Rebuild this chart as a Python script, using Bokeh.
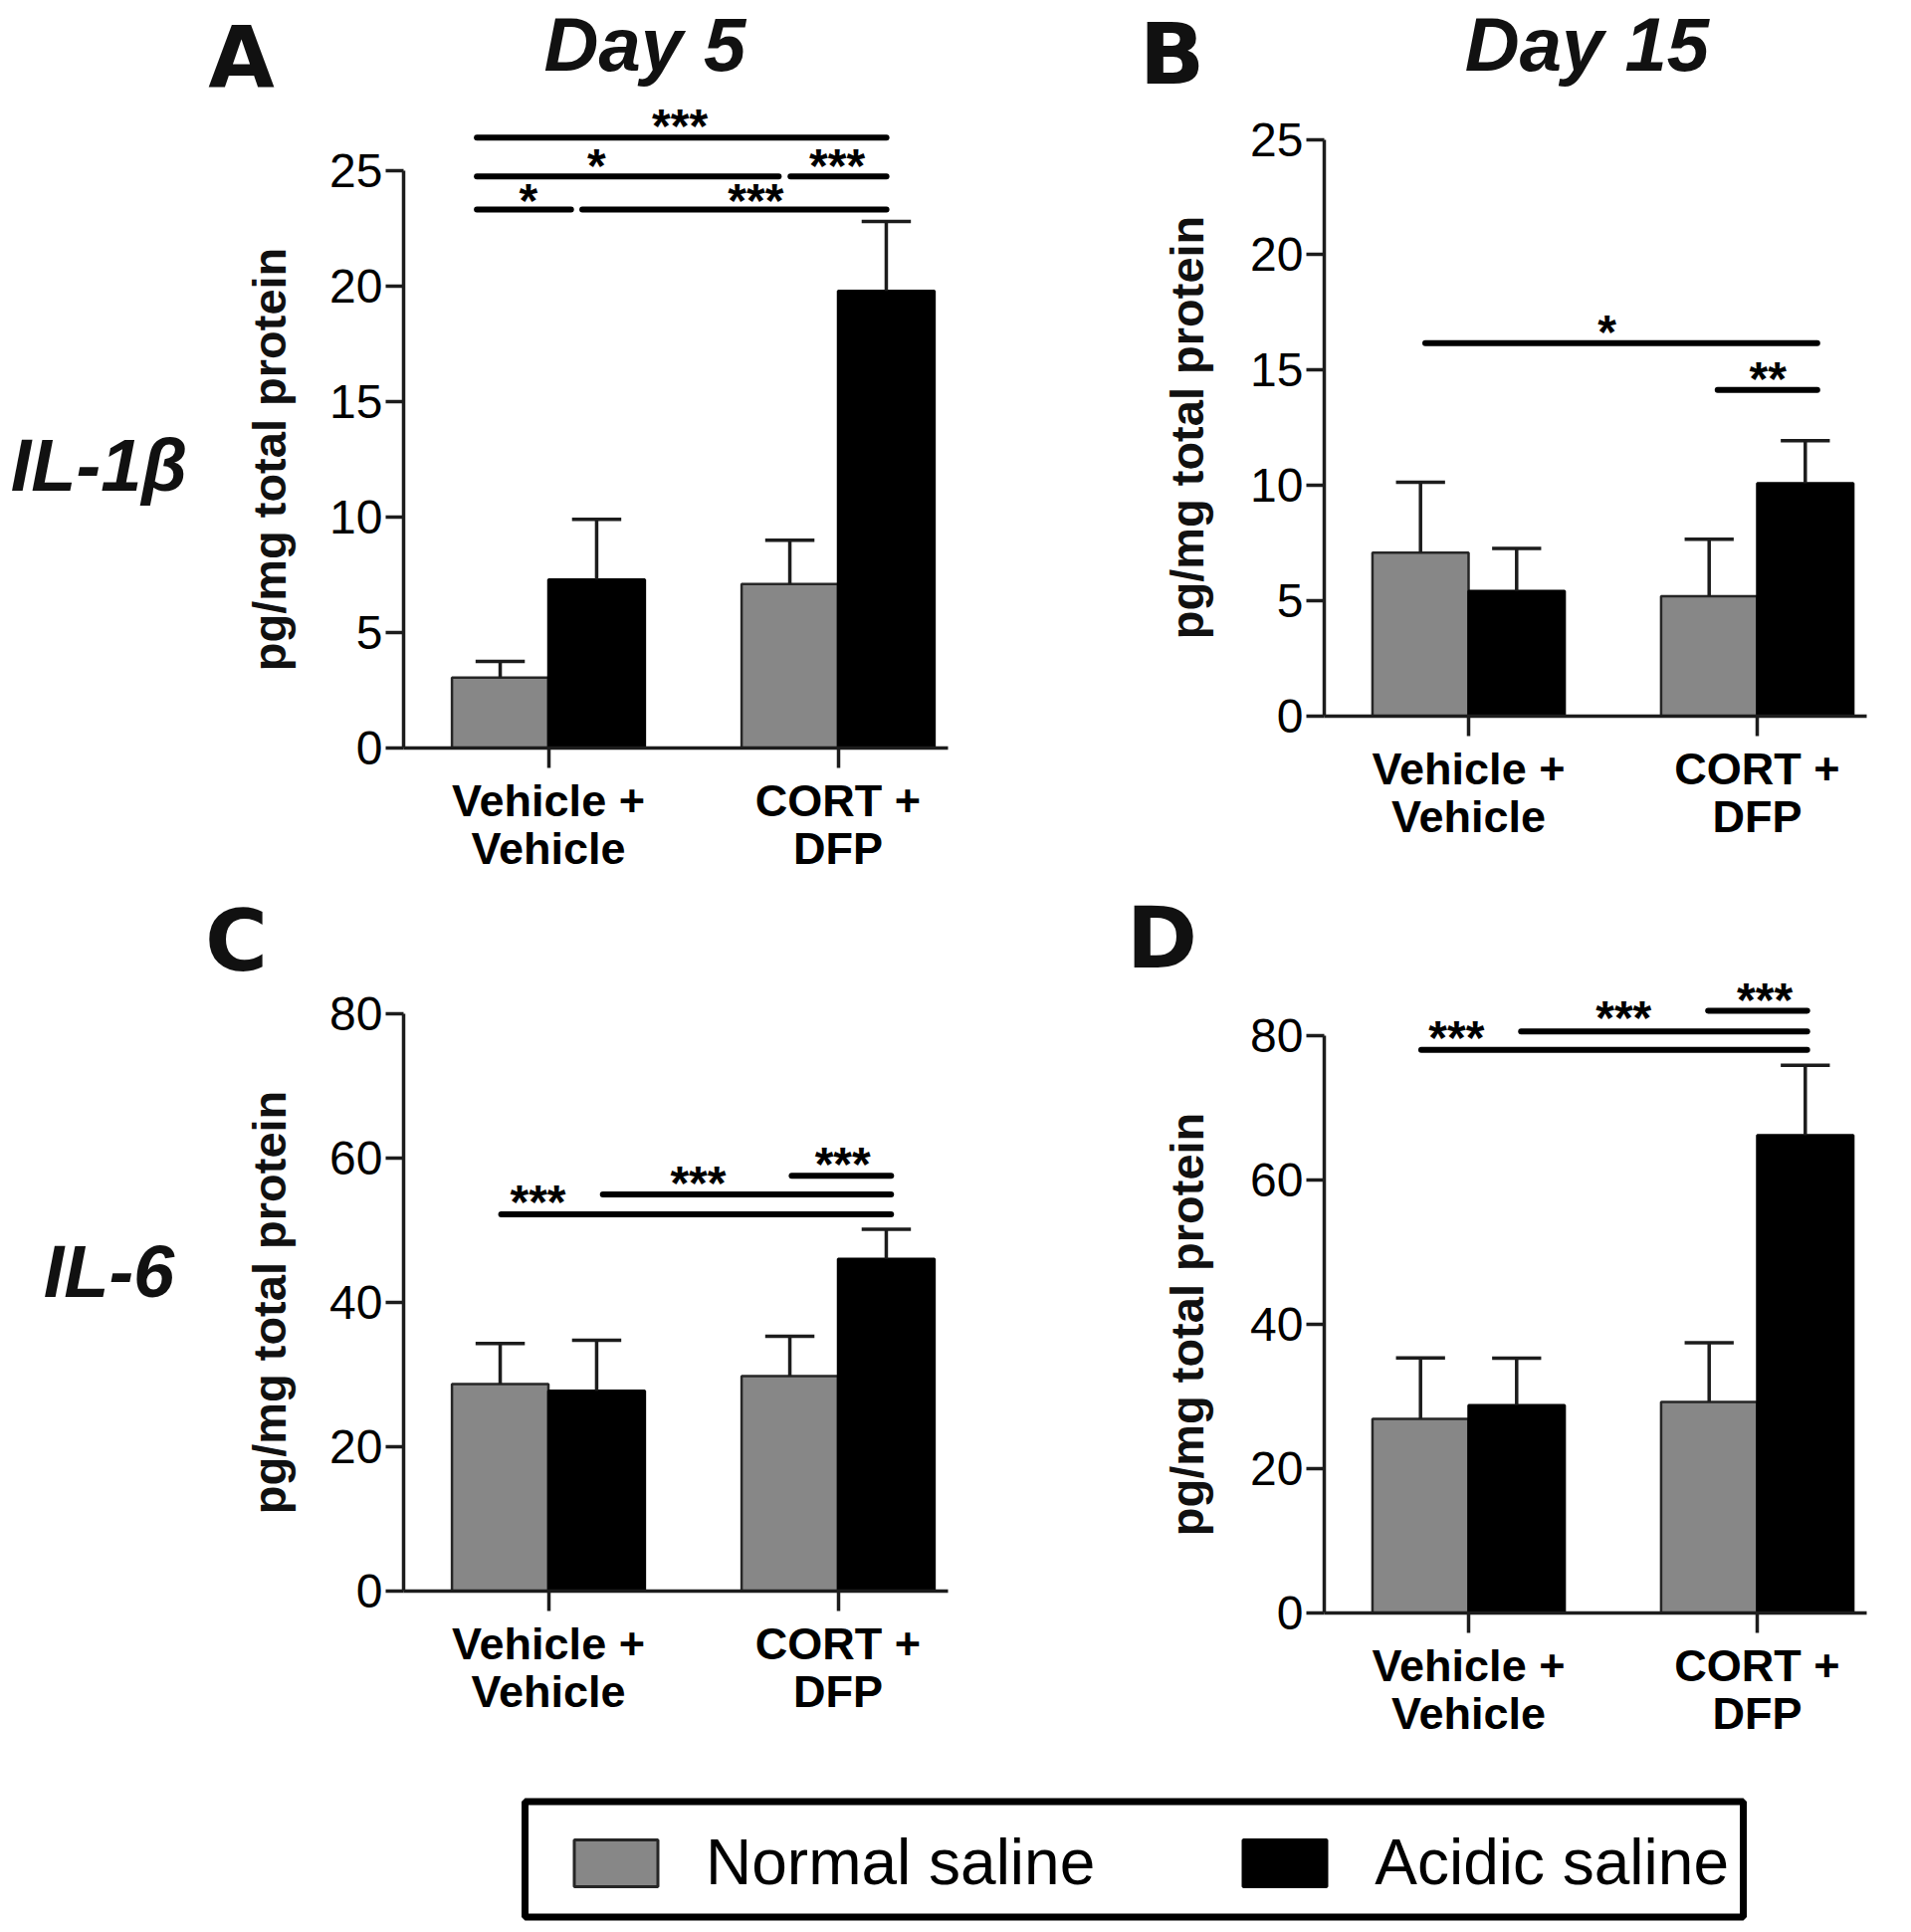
import math
from bokeh.plotting import figure
from bokeh.models import Range1d, FixedTicker, Label, Legend, LegendItem, BoxAnnotation
from bokeh.layouts import column, row
from bokeh.core.properties import value
from bokeh.embed import file_html
from bokeh.resources import INLINE

# ---------------- data ----------------
groups = [0, 1]
group_labels = ["Vehicle +\nVehicle", "CORT +\nDFP"]
series_names = ["Normal saline", "Acidic saline"]
y_title = "pg/mg total protein"

# A: IL-1beta, Day 5
a_normal = [3.05, 7.1]
a_normal_sem = [0.7, 1.9]
a_acidic = [7.3, 19.8]
a_acidic_sem = [2.6, 3.0]
a_sig_x0 = [-0.247, -0.247, 0.836, -0.247, 0.117]
a_sig_x1 = [1.167, 0.795, 1.167, 0.078, 1.167]
a_sig_y = [26.43, 24.75, 24.75, 23.32, 23.32]
a_sig_text = ["***", "*", "***", "*", "***"]
a_sig_tx = [0.454, 0.166, 0.997, -0.069, 0.716]
a_sig_ty = [27.2, 25.47, 25.47, 23.95, 23.95]

# B: IL-1beta, Day 15
b_normal = [7.09, 5.2]
b_normal_sem = [3.05, 2.47]
b_acidic = [5.42, 10.09]
b_acidic_sem = [1.85, 1.85]
b_sig_x0 = [-0.15, 0.863]
b_sig_x1 = [1.208, 1.208]
b_sig_y = [16.17, 14.14]
b_sig_text = ["*", "**"]
b_sig_tx = [0.48, 1.037]
b_sig_ty = [16.9, 14.9]

# C: IL-6, Day 5
c_normal = [28.7, 29.8]
c_normal_sem = [5.6, 5.5]
c_acidic = [27.75, 46.05]
c_acidic_sem = [7.0, 4.1]
c_sig_x0 = [-0.163, 0.188, 0.84]
c_sig_x1 = [1.183, 1.183, 1.183]
c_sig_y = [52.2, 54.96, 57.56]
c_sig_text = ["***", "***", "***"]
c_sig_tx = [-0.036, 0.517, 1.016]
c_sig_ty = [54.7, 57.35, 59.96]

# D: IL-6, Day 15
d_normal = [26.9, 29.25]
d_normal_sem = [8.45, 8.2]
d_acidic = [28.8, 66.2]
d_acidic_sem = [6.5, 9.7]
d_sig_x0 = [-0.164, 0.182, 0.83]
d_sig_x1 = [1.173, 1.173, 1.173]
d_sig_y = [78.03, 80.6, 83.45]
d_sig_text = ["***", "***", "***"]
d_sig_tx = [-0.042, 0.537, 1.026]
d_sig_ty = [80.6, 83.3, 85.8]

# ---------------- style ----------------
GRAY = "#878787"
BLACK = "#000000"
INK = "#1c1c1c"
FONT = "Liberation Sans"
LETTER_FONT = "DejaVu Sans"
BW = 0.333
CAP = 0.17


def bare(width, height, xr, yr, top=0, bottom=0):
    p = figure(width=width, height=height, x_range=Range1d(*xr), y_range=Range1d(*yr),
               output_backend="svg", toolbar_location=None,
               min_border_left=0, min_border_right=0,
               min_border_top=top, min_border_bottom=bottom)
    p.axis.visible = False
    p.grid.visible = False
    p.outline_line_color = None
    return p


def put(p, x, y, txt, size, style, angle=0.0, font=FONT):
    p.add_layout(Label(x=x, y=y, text=txt, text_font=font, text_font_size=size,
                       text_font_style=style, text_align="center", text_baseline="middle",
                       angle=angle, text_color="#111111"))


def make_panel(width, height, bottom, right, xmax, yhi, ybound, yticks,
               normal, normal_sem, acidic, acidic_sem,
               sx0, sx1, sy, stext, stx, sty):
    p = figure(width=width, height=height, x_range=Range1d(-0.5, xmax),
               y_range=Range1d(0, yhi),
               output_backend="svg", toolbar_location=None,
               min_border_left=80, min_border_right=right,
               min_border_top=0, min_border_bottom=bottom)
    p.grid.visible = False
    p.outline_line_color = None

    xn = [g - BW / 2 for g in groups]
    xa = [g + BW / 2 for g in groups]
    p.vbar(x=xn, top=normal, width=BW, bottom=0, fill_color=GRAY,
           line_color="#262626", line_width=2.5)
    p.vbar(x=xa, top=acidic, width=BW, bottom=0, fill_color=BLACK,
           line_color=BLACK, line_width=2.5)

    ex = xn + xa
    em = normal + acidic
    et = [m + s for m, s in zip(normal + acidic, normal_sem + acidic_sem)]
    p.segment(x0=ex, y0=em, x1=ex, y1=et, line_color=INK, line_width=3.5)
    p.segment(x0=[x - CAP / 2 for x in ex], y0=et, x1=[x + CAP / 2 for x in ex], y1=et,
              line_color=INK, line_width=3.5)

    p.segment(x0=sx0, y0=sy, x1=sx1, y1=sy, line_color=BLACK, line_width=6,
              line_cap="round")
    p.text(x=stx, y=sty, text=stext, text_font=value(FONT), text_font_style="bold",
           text_font_size="48px", text_align="center", text_baseline="alphabetic",
           y_offset=6, text_color=BLACK)

    ya = p.yaxis[0]
    ya.bounds = ybound
    ya.ticker = FixedTicker(ticks=yticks)
    ya.major_tick_in = 0
    ya.major_tick_out = 18
    ya.minor_tick_line_color = None
    ya.axis_line_width = 3.5
    ya.axis_line_color = INK
    ya.major_tick_line_width = 3.5
    ya.major_tick_line_color = INK
    ya.major_label_text_font = FONT
    ya.major_label_text_font_size = "48px"
    ya.major_label_text_color = BLACK
    ya.major_label_standoff = 3

    xa_ = p.xaxis[0]
    xa_.ticker = FixedTicker(ticks=groups)
    xa_.major_label_overrides = {g: lab for g, lab in zip(groups, group_labels)}
    xa_.major_tick_in = 0
    xa_.major_tick_out = 20
    xa_.minor_tick_line_color = None
    xa_.axis_line_width = 3.5
    xa_.axis_line_color = INK
    xa_.major_tick_line_width = 3.5
    xa_.major_tick_line_color = INK
    xa_.major_label_text_font = FONT
    xa_.major_label_text_font_style = "bold"
    xa_.major_label_text_font_size = "45px"
    xa_.major_label_text_line_height = 0.95
    xa_.major_label_text_color = BLACK
    xa_.major_label_standoff = 7
    return p


# page geometry (pixels)
R1_TOP, R1_BOT = 0, 890
A_Y0, B_Y0 = 751, 719
R2_TOP, R2_BOT = 890, 1790
C_Y0, D_Y0 = 1598, 1620
PX_A, PX_B, PX_CD = 23.2, 23.18, 7.25

# ---- row 1 ----
h1 = R1_BOT - R1_TOP
pA = make_panel(675, h1, R1_BOT - A_Y0, 48, 1.3797, (A_Y0 - R1_TOP) / PX_A, (0, 25),
                [0, 5, 10, 15, 20, 25],
                a_normal, a_normal_sem, a_acidic, a_acidic_sem,
                a_sig_x0, a_sig_x1, a_sig_y, a_sig_text, a_sig_tx, a_sig_ty)
put(pA, 0.333, (A_Y0 - 44) / PX_A, "Day 5", "76px", "bold italic")
pB = make_panel(660, h1, R1_BOT - B_Y0, 35, 1.3793, (B_Y0 - R1_TOP) / PX_B, (0, 25),
                [0, 5, 10, 15, 20, 25],
                b_normal, b_normal_sem, b_acidic, b_acidic_sem,
                b_sig_x0, b_sig_x1, b_sig_y, b_sig_text, b_sig_tx, b_sig_ty)
put(pB, 0.41, (B_Y0 - 44) / PX_B, "Day 15", "76px", "bold italic")

sL1 = bare(325, h1, (0, 325), (A_Y0, R1_TOP), 0, R1_BOT - A_Y0)
put(sL1, 242, 56, "A", "86px", "bold", font=LETTER_FONT)
put(sL1, 99, 467, "IL-1β", "74px", "bold italic")
put(sL1, 270, 461, y_title, "47px", "bold", angle=math.pi / 2)
sM1 = bare(250, h1, (1000, 1250), (A_Y0, R1_TOP), 0, R1_BOT - A_Y0)
put(sM1, 1177, 53, "B", "86px", "bold", font=LETTER_FONT)
put(sM1, 1192, 429, y_title, "47px", "bold", angle=math.pi / 2)

# ---- row 2 ----
h2 = R2_BOT - R2_TOP
pC = make_panel(675, h2, R2_BOT - C_Y0, 48, 1.3797, (C_Y0 - R2_TOP) / PX_CD,
                (0, 80), [0, 20, 40, 60, 80],
                c_normal, c_normal_sem, c_acidic, c_acidic_sem,
                c_sig_x0, c_sig_x1, c_sig_y, c_sig_text, c_sig_tx, c_sig_ty)
pD = make_panel(660, h2, R2_BOT - D_Y0, 35, 1.3793, (D_Y0 - R2_TOP) / PX_CD,
                (0, 80), [0, 20, 40, 60, 80],
                d_normal, d_normal_sem, d_acidic, d_acidic_sem,
                d_sig_x0, d_sig_x1, d_sig_y, d_sig_text, d_sig_tx, d_sig_ty)
sL2 = bare(325, h2, (0, 325), (D_Y0, R2_TOP), 0, R2_BOT - D_Y0)
put(sL2, 237, 944, "C", "86px", "bold", font=LETTER_FONT)
put(sL2, 109, 1277, "IL-6", "74px", "bold italic")
put(sL2, 270, 1308, y_title, "47px", "bold", angle=math.pi / 2)
sM2 = bare(250, h2, (1000, 1250), (D_Y0, R2_TOP), 0, R2_BOT - D_Y0)
put(sM2, 1167, 941, "D", "86px", "bold", font=LETTER_FONT)
put(sM2, 1192, 1330, y_title, "47px", "bold", angle=math.pi / 2)

# ---------------- legend strip ----------------
LEG_BOT = 1935
pL = bare(1910, LEG_BOT - R2_BOT, (0, 1910), (LEG_BOT, R2_BOT))
rn = pL.vbar(x=[0], top=[0], width=0, fill_color=GRAY, line_color="#262626",
             line_width=3, visible=False)
ra = pL.vbar(x=[0], top=[0], width=0, fill_color=BLACK, line_color=BLACK,
             line_width=3, visible=False)
leg = Legend(items=[LegendItem(label=series_names[0], renderers=[rn]),
                    LegendItem(label=series_names[1], renderers=[ra])],
             orientation="horizontal", location=(566, 27),
             glyph_width=105, glyph_height=59, label_standoff=38, spacing=138,
             padding=0, margin=0, border_line_color=None, background_fill_alpha=0,
             inactive_fill_alpha=0,
             label_text_font=FONT, label_text_font_size="64px", label_text_color=BLACK)
pL.add_layout(leg, "center")
pL.add_layout(BoxAnnotation(left=527, right=1751, top=1809.5, bottom=1925.5,
                            fill_alpha=0, line_color=BLACK, line_alpha=1, line_width=7))

layout = column(row(sL1, pA, sM1, column(pB)),
                row(sL2, column(pC), sM2, pD), pL)

open("out.html", "w").write(file_html(layout, INLINE))
